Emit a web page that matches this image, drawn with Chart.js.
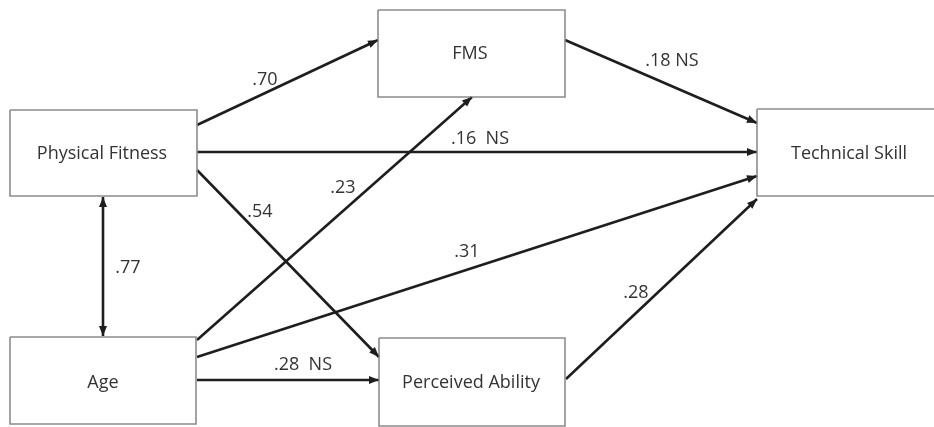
<!DOCTYPE html>
<html>
<head>
<meta charset="utf-8">
<script src="https://cdn.jsdelivr.net/npm/chart.js@4/dist/chart.umd.min.js"></script>
<style>
html,body{margin:0;padding:0;background:#fff;}
#wrap{width:934px;height:427px;}
</style>
</head>
<body>
<div id="wrap"><canvas id="c" width="934" height="427"></canvas></div>
<script>
// ---- data ----
const nodeNames = ['Physical Fitness', 'FMS', 'Technical Skill', 'Age', 'Perceived Ability'];
// box corners in diagram units [x1, y1, x2, y2]
const nodeBoxes = [
  [10, 110, 197, 196],
  [378, 10, 565, 97],
  [757, 109, 945, 196],
  [10, 337, 196, 424],
  [379, 338, 565, 426]
];
const nodeTextPos = [[102, 154], [470, 54], [849, 154], [103, 383], [471, 383]];

const pathLabels = ['.70', '.16  NS', '.54', '.23', '.31', '.28  NS', '.18 NS', '.28', '.77'];
const pathStart = [[197,125],[197,152],[197,170],[197,340],[197,357],[197,380],[565,40],[566,379],[103,197]];
const pathEnd   = [[378,40],[757,152],[379,357],[472,97],[757,176],[379,380],[757,123],[757,199],[103,336]];
const pathBothHeads = [false,false,false,false,false,false,false,false,true];
const pathLabelPos = [[265,80],[480,139],[260,212],[343,188],[467,252],[303,365],[672,61],[636,293],[128,268]];

// ---- build datasets ----
const datasets = [];
nodeBoxes.forEach(b => {
  datasets.push({
    data: [{x:b[0],y:b[1]},{x:b[2],y:b[1]},{x:b[2],y:b[3]},{x:b[0],y:b[3]},{x:b[0],y:b[1]}],
    showLine: true, borderColor: '#8c8c8c', borderWidth: 1.6, pointRadius: 0,
    fill: false, tension: 0, kind: 'box'
  });
});
pathStart.forEach((s, i) => {
  datasets.push({
    data: [{x:s[0],y:s[1]},{x:pathEnd[i][0],y:pathEnd[i][1]}],
    showLine: true, borderColor: '#1e1e1e', borderWidth: 2.6, pointRadius: 0,
    fill: false, tension: 0, kind: 'edge', both: pathBothHeads[i]
  });
});

function arrowHead(ctx, x1, y1, x2, y2) {
  const a = Math.atan2(y2 - y1, x2 - x1);
  const L = 10, W = 4;
  ctx.beginPath();
  ctx.moveTo(x2, y2);
  ctx.lineTo(x2 - L*Math.cos(a) + W*Math.sin(a), y2 - L*Math.sin(a) - W*Math.cos(a));
  ctx.lineTo(x2 - L*Math.cos(a) - W*Math.sin(a), y2 - L*Math.sin(a) + W*Math.cos(a));
  ctx.closePath();
  ctx.fill();
}

const diagramPlugin = {
  id: 'diagram',
  afterDatasetsDraw(chart) {
    const ctx = chart.ctx;
    const xs = chart.scales.x, ys = chart.scales.y;
    ctx.save();
    ctx.fillStyle = '#1e1e1e';
    chart.data.datasets.forEach((ds, i) => {
      if (ds.kind !== 'edge') return;
      const pts = chart.getDatasetMeta(i).data;
      const p0 = pts[0], p1 = pts[1];
      arrowHead(ctx, p0.x, p0.y, p1.x, p1.y);
      if (ds.both) arrowHead(ctx, p1.x, p1.y, p0.x, p0.y);
    });
    ctx.textAlign = 'center';
    ctx.textBaseline = 'middle';
    ctx.fillStyle = '#333333';
    ctx.font = '18px "Open Sans", sans-serif';
    nodeNames.forEach((n, i) => {
      ctx.fillText(n, xs.getPixelForValue(nodeTextPos[i][0]), ys.getPixelForValue(nodeTextPos[i][1]));
    });
    pathLabels.forEach((t, i) => {
      ctx.fillText(t, xs.getPixelForValue(pathLabelPos[i][0]), ys.getPixelForValue(pathLabelPos[i][1]));
    });
    ctx.restore();
  }
};

new Chart(document.getElementById('c'), {
  type: 'scatter',
  data: { datasets },
  options: {
    responsive: false,
    animation: false,
    layout: { padding: 0 },
    plugins: { legend: { display: false }, tooltip: { enabled: false } },
    scales: {
      x: { type: 'linear', min: 0, max: 934, display: false },
      y: { type: 'linear', min: 0, max: 427, reverse: true, display: false }
    },
    clip: false
  },
  plugins: [diagramPlugin]
});
</script>
</body>
</html>
